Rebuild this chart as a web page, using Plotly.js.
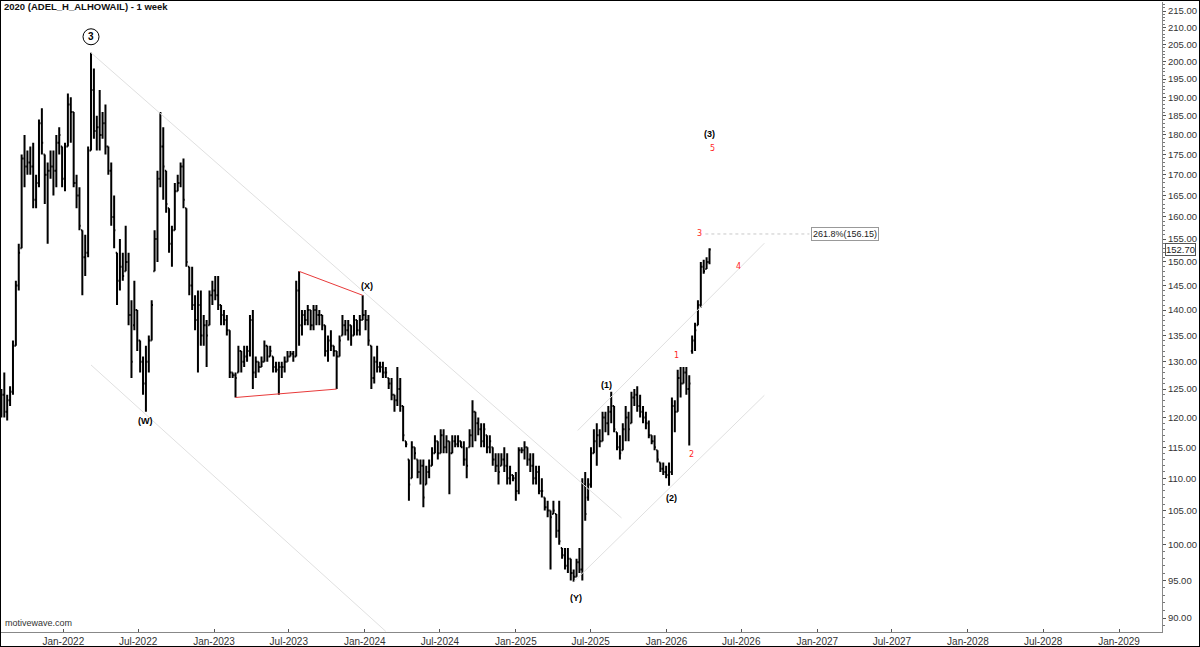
<!DOCTYPE html>
<html>
<head>
<meta charset="utf-8">
<script src="https://cdn.plot.ly/plotly-3.0.1.min.js"></script>
<style>
html,body{margin:0;padding:0;background:#fff;}
#chart{width:1198px;height:645px;border:1px solid #000;}
</style>
</head>
<body>
<div id="chart"></div>
<script>
// ---- DATA (weekly bars) ----
const firstWeek = '2021-08-04';
const highs = [
125,128,124,125.5,134,146,154,175,180,176,
177,178,170,184,187,175,173,176,176,180,
182,177,178,191,190,186,170,167,157,156,
177,202.5,198,185,192,186,188,177,173,165,
152,155,152,158,152,142,146,140,134,131,
133,135,142,157,171,186,182,171,162,158,
168,170,173,174,162,149,149,143,144,144,
139,138,144,146,147,147,141,140,139,136,
128,128,133,132,133,133,139,140,131,130,
131,134,133,133,131,130,130,130,131,132,
132,132,146,148,140,140,141,140,141,141,
140,139,137,135,136,133,132,135,139,138,
138,137,139,138,139,143,140,139,133,131,
133,130,130,129,127,127,124,129,127,122,
116,113,116,115,113,113,113,112,113,115,
117,116,118,118,117,116,117,117,117,116,
116,115,118,123,121,120,119,119,117,117,
115,114,114,114,115,114,112,110.5,111,115,
115,116,115,114,114,112,112,110,107,106.5,
105,106.5,104.5,106.5,99.5,99.5,99.5,98,96.5,98,
99.5,110,111,110,115,118,119,118,121,121,
122,124.5,122,117.5,117,119,122,121,124.5,125,
125.5,124,122,121,119.5,117,117,114.5,112.5,112.5,
112,112.5,123.5,123,128.5,129,129,129,127.5,135,
137.5,142,150,150.5,151,153
];
const lows = [
120,120,119.5,122,124,133,144,153,167,170,
170,162,162,167,175,163,154,169,165,167,
175,167,166,177,178,167,162,157,143,147,
151,176,179,176,176,179,175,170,158,153,
141,144,146,148,137,127,136,132,128,124,
121,128,134,148,150,167,164,161,152,149,
157,166,167,162,149,143,140,136,128,133,
133,129,137,141,142,140,137,137,135,127,
127,123.5,128,128,129,130,131,125,127,128,
129,130,130,131,128,128,124,127,128,130,
131,130,131,133,135,137,137,136,136,137,
137,136,131,130,132,131,125,131,135,135,
134,133,135,135,135,138,136,133,125,126,
128,128,127,127,125,123,121,122,121,116,
115,106.5,110,113,110,109,105.5,109,110,112,
114,113,114,114,114,107.5,114,115,115,115,
112,110,115,115,116,117,115,115,114,114,
112,111,109,112,111,109,109,109.5,106.5,107.5,
114,113,112,111,109,109,107.5,107,105,104,
96.5,104.5,101,100,98,96.5,96,95,94.8,95.5,
96,95,103.5,106.5,108.5,114,112,115,116,117.5,
117,119,117.5,114.5,113,114.5,116,116,119,122,
121,120,119,118,116.5,115.5,114.5,112.5,111,110.5,
110,108.8,110.5,117.5,121,123.5,126,124,115.3,131.5,
132,137,140.5,147.5,148.5,149.5
];
const opens = [
121,124,121,123,124.5,133,145,153,174,172,
173,172,164,168,183,175,170,171,172,171,
178,177,169,177,188,186,168,165,157,151,
152,176,192,181,182,180,183,177,171,160,
152,146,149,148,150,139,137,140,134,130,
126,130,134,148,155,169,177,171,162,154,
157,166,168,172,162,149,145,141,138,141,
135,137,137,143,144,143,141,139,138,136,
128,127.5,128,132,130,131,132,138,128,130,
129,130,133,131,131,129,128.5,129,129,130,
131,131.5,131,144,137,139,138,140,137,140,
139,139,137,132,134,133,132,131,135,137,
136,137,135,138,136,138,139,138,133,127,
130,129,129,128,127,126,124,123,125,122,
116,113,110,115,113,111,112,109,111,112,
114,116,114,117,115,116,114,116,115.5,116,
115,113,115,117,121,119,118,116,117,115,
115,113,112,112,113,112,110,110.5,110,108,
114.5,114.5,115,113,112,110,111,108,107,105.5,
105,104.5,104.5,102,99.5,98.5,97,98,96,95.5,
97.5,96.5,109,107,109,114,116,117,116,120,
119,121,122,117.5,115,114.5,118,120,119,123.5,
124,122,121,120,119,117,116,114.5,112.5,111.5,
111,110.5,111,122,121,127,126,128,125,132,
134,137,141,149,148.5,150
];
const closes = [
124,121,123,124.5,133,145,152,174,172,173,
172,164,168,183,178,170,171,172,171,178,
180,169,177,188,186,168,165,158,151,152,
176,192,181,182,180,183,177,171,160,157,
146,149,147,150,139,130,140,134,130,126,
130,134,141,155,169,177,172,163,154,157,
166,168,172,164,150,145,141,138,141,135,
137,135,143,144,143,141,139,138,136,128,
127.5,127,132,130,131,132,138,128,130,129,
130,133,131,132,129,128.5,129,129,130,131,
131.5,131,144,137,139,138,140,137,140,139,
139,137,132,134,133,132,131,134,137,136,
137,135,138,136,138,139,138,134,127,130,
129,129,128,128,126,124,123,125,122,117,
115.5,109,115,114,111,112,107,111,112,114,
116,114,117,115,116,114,116,115.5,116,115,
113,112,117,121,119,118,116,118,115,116,
113,112,111,113,112,110,110.5,110,108,114.5,
114.5,115,113,112,110,111,108,108,105.5,105,
104,105,102,100.5,98.5,97,98,96,95.5,97.5,
96.5,109,104.5,109,114,116,117,116,120,119,
121,122,118,115,114,118,120,118,123.5,124,
122,121,120,119,117,116,115,113,111.5,111,
110.5,111,122,121,127,126,128,125,126,134,
136,141,149,148,150,152.7
];

// Wave labels attached to bars (bar index, text, high/low)
const barLabelBars  = [31, 50, 125, 198, 211, 231, 234, 238];
const barLabelTexts = ['3', '(W)', '(X)', '(Y)', '(1)', '(2)', '1', '2'];
const barLabelSides = ['high','low','high','low','high','low','high','low'];
const barLabelRed   = [false,false,false,false,false,false,true,true];

// Projection labels (date, price)
const projTexts  = ['(3)', '5', '3', '4'];
const projDates  = ['2026-04-15', '2026-04-22', '2026-03-22', '2026-06-24'];
const projPrices = [180.2, 176.4, 156.15, 149.1];
const projRed    = [false, true, true, true];

// Fibonacci target
const fibText = '261.8%(156.15)';
const fibLevel = 156.15;
const fibDates = ['2026-04-05', '2026-12-13'];

// Trend lines (grey channels)
const chanStartDates  = [null, null, null, '2025-05-31'];
const chanStartBars   = [31, 31, 198, null];
const chanStartPrices = [202.5, 129.4, 94.8, 117.8];
const chanEndDates    = ['2025-09-14', '2024-02-21', '2026-08-26', '2026-08-26'];
const chanEndPrices   = [103.9, 88.3, 123.9, 154.1];

// Red triangle (bar index pairs)
const triUpperBars = [103, 125];
const triLowerBars = [81, 116];

// Axis ticks
const yTickVals = [90,95,100,105,110,115,120,125,130,135,140,145,150,155,160,165,170,175,180,185,190,195,200,205,210,215];
const xTickYears = [2022,2023,2024,2025,2026,2027,2028,2029];

// ---- BUILD ----
const lg = Math.log10;
const W = 1198, H = 645, M = {l: 0, r: 37, t: 1, b: 14};
const yRange = [lg(88.22), lg(217.8)];
const pxPerDecade = (H - M.t - M.b) / (yRange[1] - yRange[0]);

const dates = [];
const t0 = Date.parse(firstWeek + 'T00:00:00Z');
for (let i = 0; i < closes.length; i++) {
  dates.push(new Date(t0 + i * 7 * 86400000).toISOString().slice(0, 10));
}

const xTickVals = [], xTickText = [];
xTickYears.forEach(y => {
  xTickVals.push(y + '-01-01'); xTickText.push('Jan-' + y);
  if (y < 2029) { xTickVals.push(y + '-07-01'); xTickText.push('Jul-' + y); }
});
const yMinor = [];
for (let v = 88; v <= 217; v++) yMinor.push(v);

const FONT = 'Liberation Sans, Arial, sans-serif';
const RED = '#ff1f1f';

const traces = [];
function lineTrace(xs, ys, color, dash) {
  traces.push({type: 'scatter', mode: 'lines', x: xs, y: ys, hoverinfo: 'skip', showlegend: false,
    line: {color: color, width: 1, dash: dash || 'solid'}});
}
// grey channel lines
for (let i = 0; i < chanStartPrices.length; i++) {
  const xs = chanStartBars[i] !== null ? dates[chanStartBars[i]] : chanStartDates[i];
  lineTrace([xs, chanEndDates[i]], [chanStartPrices[i], chanEndPrices[i]], '#e0e0e0');
}
// red triangle
lineTrace([dates[triUpperBars[0]], dates[triUpperBars[1]]], [highs[triUpperBars[0]], highs[triUpperBars[1]]], '#e83a3a');
lineTrace([dates[triLowerBars[0]], dates[triLowerBars[1]]], [lows[triLowerBars[0]], lows[triLowerBars[1]]], '#e83a3a');
// fib dotted line
lineTrace(fibDates, [fibLevel, fibLevel], '#c8c8c8', 'dot');

// OHLC bars
traces.push({
  type: 'ohlc', x: dates, open: opens, high: highs, low: lows, close: closes,
  increasing: {line: {color: '#000', width: 2}},
  decreasing: {line: {color: '#000', width: 2}},
  tickwidth: 0.45, hoverinfo: 'skip', showlegend: false
});

// circle around wave-3 label (16 px above the peak high)
const circleLift = Math.pow(10, 16 / pxPerDecade);
traces.push({type: 'scatter', mode: 'markers', x: [dates[31]], y: [highs[31] * circleLift], hoverinfo: 'skip',
  showlegend: false, cliponaxis: false,
  marker: {symbol: 'circle-open', size: 16, color: '#000', line: {width: 1, color: '#000'}}});

const annotations = [];
const shiftsX = [0, 0, 4, 2, -5, 2, -1, 2];
const shiftsY = [16, -9, 9, -16, 7, -12, 14, -9];
for (let i = 0; i < barLabelBars.length; i++) {
  const b = barLabelBars[i];
  const yv = barLabelSides[i] === 'high' ? highs[b] : lows[b];
  const red = barLabelRed[i];
  annotations.push({x: dates[b], y: lg(yv), xref: 'x', yref: 'y', showarrow: false,
    text: red ? barLabelTexts[i] : '<b>' + barLabelTexts[i] + '</b>',
    xshift: shiftsX[i], yshift: shiftsY[i],
    font: {family: red ? 'DejaVu Sans, sans-serif' : FONT, size: red ? 8 : (i === 0 ? 10 : 9), color: red ? RED : '#000'}});
}
for (let i = 0; i < projTexts.length; i++) {
  annotations.push({x: projDates[i], y: lg(projPrices[i]), xref: 'x', yref: 'y', showarrow: false,
    text: projRed[i] ? projTexts[i] : '<b>' + projTexts[i] + '</b>',
    font: {family: projRed[i] ? 'DejaVu Sans, sans-serif' : FONT, size: projRed[i] ? 8 : 9, color: projRed[i] ? RED : '#000'}});
}
annotations.push({x: fibDates[1], y: lg(fibLevel), xref: 'x', yref: 'y', showarrow: false,
  xanchor: 'left', xshift: 2, text: fibText, bgcolor: '#fff', bordercolor: '#999', borderwidth: 1, borderpad: 1,
  font: {family: FONT, size: 9, color: '#222'}});
const lastClose = closes[closes.length - 1];
annotations.push({x: 1, y: lg(lastClose), xref: 'paper', yref: 'y', showarrow: false,
  xanchor: 'left', xshift: 3, text: lastClose.toFixed(2), bgcolor: '#fff', bordercolor: '#555', borderwidth: 1,
  borderpad: 0, font: {family: FONT, size: 9.5, color: '#222'}});
annotations.push({x: 0, y: 0, xref: 'paper', yref: 'paper', showarrow: false, xanchor: 'left', yanchor: 'bottom',
  xshift: 2, yshift: 2, text: 'motivewave.com', font: {family: FONT, size: 9, color: '#333'}});

const layout = {
  width: W, height: H, margin: M,
  paper_bgcolor: '#fff', plot_bgcolor: '#fff',
  showlegend: false, hovermode: false,
  title: {text: '<b>2020 (ADEL_H_ALHOWAIL) - 1 week</b>', xref: 'container', yref: 'container',
    x: 3 / W, xanchor: 'left', y: 1 - 2 / H, yanchor: 'top',
    font: {family: FONT, size: 9.5, color: '#111'}, pad: {t: 0, b: 0, l: 0, r: 0}},
  xaxis: {type: 'date', range: ['2021-08-03', '2029-04-15'], tickmode: 'array', tickvals: xTickVals, ticktext: xTickText,
    ticks: 'inside', ticklen: 3, tickcolor: '#555', showline: true, linecolor: '#888', linewidth: 1,
    showgrid: false, zeroline: false, tickfont: {family: FONT, size: 10, color: '#333'},
    rangeslider: {visible: false}, fixedrange: true},
  yaxis: {type: 'log', side: 'right', range: yRange, tickmode: 'array', tickvals: yTickVals,
    ticktext: yTickVals.map(v => v.toFixed(2)), ticks: 'outside', ticklen: 3, tickcolor: '#555',
    showline: true, linecolor: '#888', linewidth: 1, showgrid: false, zeroline: false,
    tickfont: {family: FONT, size: 9.5, color: '#333'},
    minor: {tickmode: 'array', tickvals: yMinor, ticks: 'outside', ticklen: 2, tickcolor: '#777', showgrid: false},
    fixedrange: true},
  annotations: annotations
};

Plotly.newPlot('chart', traces, layout, {staticPlot: true, displayModeBar: false});
</script>
</body>
</html>
